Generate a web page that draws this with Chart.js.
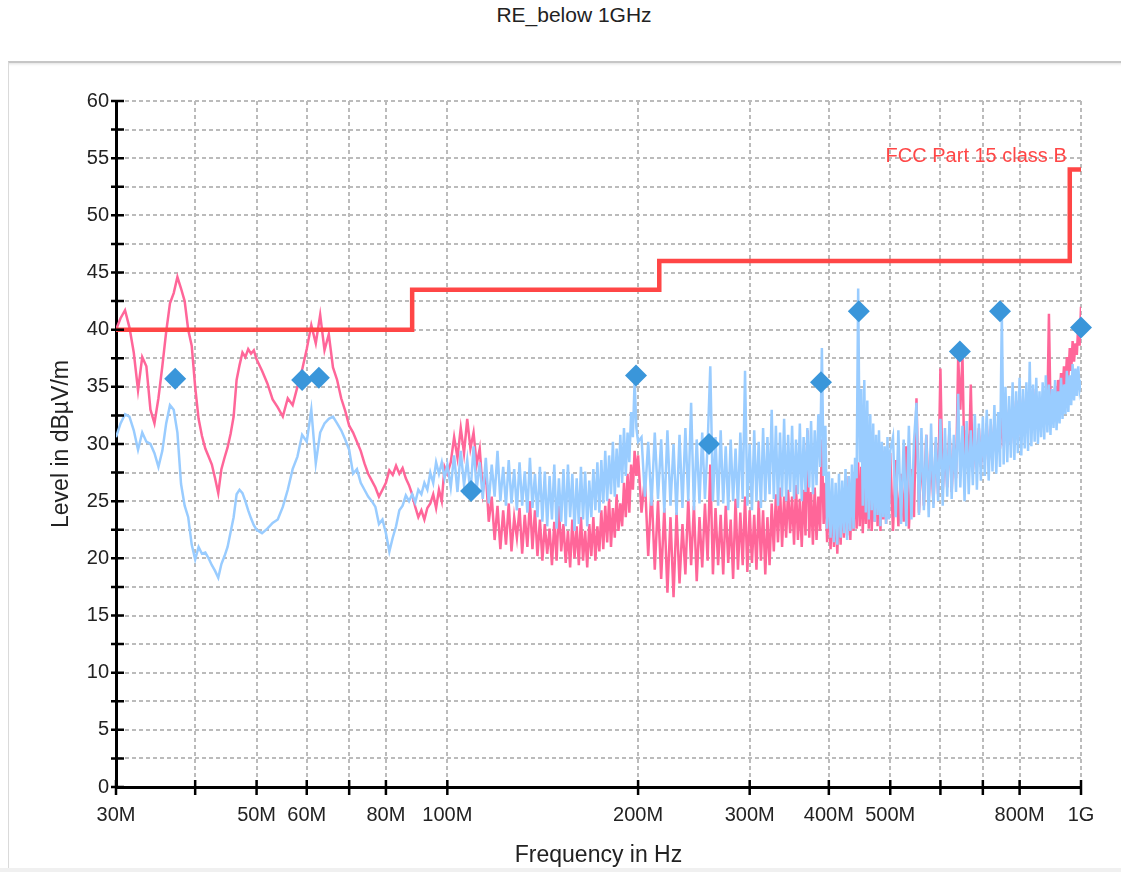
<!DOCTYPE html>
<html>
<head>
<meta charset="utf-8">
<title>RE_below 1GHz</title>
<script src="https://cdn.jsdelivr.net/npm/chart.js@4.4.1/dist/chart.umd.min.js"></script>
<style>
  body { margin: 0; background: #fff; overflow: hidden; font-family: "Liberation Sans", Arial, sans-serif; }
  #title { position: absolute; top: 3px; left: 574px; transform: translateX(-50%); font-size: 21px; color: #222; white-space: nowrap; }
  #panel { position: absolute; left: 8px; top: 61px; width: 1113px; height: 806px; border-top: 2px solid #c6c6c6; border-left: 1px solid #dadada; border-bottom: 1px solid #dcdcdc; box-shadow: inset 0 3px 3px -2px rgba(0, 0, 0, 0.12); }
  #foot { position: absolute; left: 0; top: 868px; width: 1121px; height: 4px; background: #f0f0f0; }
  #wrap { position: absolute; left: 0; top: 0; width: 1121px; height: 872px; }
</style>
</head>
<body>
<div id="title">RE_below 1GHz</div>
<div id="panel"></div>
<div id="foot"></div>
<div id="wrap"><canvas id="chart"></canvas></div>
<script>
// sweep frequencies in MHz
const freqMHz = [
  30, 30.5, 31, 31.5, 32, 32.5, 33, 33.5, 34, 34.5, 35, 35.5, 36, 36.5, 37, 37.5, 38, 38.5, 39, 39.5,
  40, 40.5, 41, 41.5, 42, 42.5, 43, 43.5, 44, 44.5, 45, 45.5, 46, 46.5, 47, 47.5, 48, 48.5, 49, 49.5, 50,
  51, 52, 53, 54, 55, 56, 57, 58, 59, 60, 61, 62, 63, 64, 65, 66, 67, 68, 69, 70,
  71, 72, 73, 74, 75, 76, 77, 78, 79, 80, 81, 82, 83, 84, 85, 86, 87, 88, 89, 90,
  91, 92, 93, 94, 95, 96, 97, 98, 99, 100,
  101.25, 102.5, 103.75, 105, 106.25, 107.5, 108.75, 110, 111.25, 112.5, 113.75, 115, 116.25, 117.5, 118.75, 120, 121.25, 122.5, 123.75, 125,
  126.25, 127.5, 128.75, 130, 131.25, 132.5, 133.75, 135, 136.25, 137.5, 138.75, 140, 141.25, 142.5, 143.75, 145, 146.25, 147.5, 148.75, 150,
  151.25, 152.5, 153.75, 155, 156.25, 157.5, 158.75, 160, 161.25, 162.5, 163.75, 165, 166.25, 167.5, 168.75, 170, 171.25, 172.5, 173.75, 175,
  176.25, 177.5, 178.75, 180, 181.25, 182.5, 183.75, 185, 186.25, 187.5, 188.75, 190, 191.25, 192.5, 193.75, 195, 196.25, 197.5, 198.75, 200,
  202.5, 205, 207.5, 210, 212.5, 215, 217.5, 220, 222.5, 225, 227.5, 230, 232.5, 235, 237.5, 240, 242.5, 245, 247.5, 250,
  252.5, 255, 257.5, 260, 262.5, 265, 267.5, 270, 272.5, 275, 277.5, 280, 282.5, 285, 287.5, 290, 292.5, 295, 297.5, 300,
  302.5, 305, 307.5, 310, 312.5, 315, 317.5, 320, 322.5, 325, 327.5, 330, 332.5, 335, 337.5, 340, 342.5, 345, 347.5, 350,
  352.5, 355, 357.5, 360, 362.5, 365, 367.5, 370, 372.5, 375, 377.5, 380, 382.5, 385, 387.5, 390, 392.5, 395, 397.5, 400,
  402.5, 405, 407.5, 410, 412.5, 415, 417.5, 420, 422.5, 425, 427.5, 430, 432.5, 435, 437.5, 440, 442.5, 445, 447.5, 450,
  452.5, 455, 457.5, 460, 462.5, 465, 467.5, 470, 472.5, 475, 477.5, 480, 482.5, 485, 487.5, 490, 492.5, 495, 497.5, 500,
  505, 510, 515, 520, 525, 530, 535, 540, 545, 550, 555, 560, 565, 570, 575, 580, 585, 590, 595, 600,
  605, 610, 615, 620, 625, 630, 635, 640, 645, 650, 655, 660, 665, 670, 675, 680, 685, 690, 695, 700,
  705, 710, 715, 720, 725, 730, 735, 740, 745, 750, 755, 760, 765, 770, 775, 780, 785, 790, 795, 800,
  805, 810, 815, 820, 825, 830, 835, 840, 845, 850, 855, 860, 865, 870, 875, 880, 885, 890, 895, 900,
  905, 910, 915, 920, 925, 930, 935, 940, 945, 950, 955, 960, 965, 970, 975, 980, 985, 990, 995, 1000
];

// pink trace, dBµV/m
const pinkTrace = [
  40.0, 41.0, 41.7, 40.2, 38.0, 34.7, 37.6, 36.8, 33.0, 31.8, 34.0, 36.8, 39.8, 42.3, 43.2, 44.6, 43.6, 42.5, 40.0, 38.6,
  35.0, 32.2, 30.7, 29.6, 28.9, 28.2, 27.0, 25.7, 27.8, 28.8, 29.7, 30.9, 32.4, 35.6, 36.9, 38.0, 37.6, 38.3, 37.9, 38.2, 37.4,
  36.4, 35.3, 33.9, 33.2, 32.4, 34.0, 33.4, 35.0, 36.5, 38.3, 40.4, 38.8, 41.3, 38.2, 39.6, 36.7, 35.6, 34.0, 32.9, 31.6,
  31.0, 30.2, 29.4, 28.3, 27.4, 26.8, 26.2, 25.4, 26.0, 26.6, 27.7, 27.3, 28.1, 27.4, 27.9, 27.0, 26.4, 25.6, 24.5, 23.6,
  24.2, 23.4, 24.4, 24.8, 25.6, 24.4, 26.0, 25.0, 28.0, 27.4,
  28.4, 30.6, 28.8, 31.4, 29.2, 32.2, 29.6, 31.0, 28.2, 29.6, 25.8, 27.6, 23.2, 25.4, 21.6, 24.6, 20.8, 24.2, 21.2, 24.8,
  20.6, 23.6, 21.8, 24.4, 20.4, 23.8, 21.0, 25.0, 20.8, 24.2, 20.2, 23.4, 19.8, 23.0, 20.4, 22.6, 19.4, 23.2, 19.8, 24.6,
  20.6, 23.0, 19.6, 22.4, 19.2, 23.4, 20.0, 22.8, 19.4, 23.6, 19.8, 22.4, 19.2, 23.0, 20.2, 23.6, 19.8, 22.8, 20.6, 24.2,
  20.8, 24.6, 21.4, 25.2, 21.0, 24.4, 21.8, 25.6, 22.4, 24.8, 22.8, 26.6, 23.6, 27.4, 24.0, 28.2, 26.0, 29.4, 27.2, 29.0,
  24.0, 27.0, 20.2, 26.2, 19.0, 25.0, 18.2, 24.4, 17.0, 23.6, 16.6, 24.0, 17.8, 23.0, 18.6, 25.2, 19.4, 24.6, 18.0, 23.6,
  19.2, 24.8, 19.8, 28.2, 18.6, 24.4, 19.4, 23.8, 18.6, 24.6, 19.6, 23.4, 18.2, 25.2, 19.0, 24.0, 19.4, 25.4, 18.8, 24.2,
  19.6, 23.8, 19.0, 25.0, 19.8, 24.2, 18.6, 23.6, 19.4, 24.8, 20.6, 25.6, 21.4, 26.2, 21.0, 25.4, 21.8, 26.0, 22.2, 25.4,
  21.2, 26.4, 21.6, 25.2, 21.0, 26.0, 22.0, 31.2, 21.8, 25.8, 21.2, 26.2, 21.6, 25.4, 22.4, 30.4, 23.0, 26.6, 21.4, 25.8,
  20.8, 25.2, 21.0, 24.6, 20.4, 25.0, 21.2, 26.0, 21.8, 26.6, 22.0, 27.2, 21.6, 26.4, 22.4, 27.6, 22.6, 28.4, 22.8, 28.0,
  22.2, 27.6, 23.0, 28.6, 22.6, 29.2, 22.4, 28.2, 23.2, 29.6, 22.8, 30.0, 22.4, 28.8, 23.4, 29.4, 23.0, 28.6, 23.8, 29.2,
  22.4, 28.6, 22.8, 27.4, 23.2, 29.8, 22.6, 27.8, 23.6, 34.0, 24.0, 29.2, 24.6, 30.8, 25.2, 28.6, 24.8, 30.2, 25.6, 36.6,
  25.8, 29.6, 26.2, 31.4, 25.8, 30.0, 27.0, 37.6, 33.0, 37.8, 27.4, 31.2, 27.8, 35.2, 27.6, 30.4, 28.2, 31.4, 28.0, 30.6,
  28.6, 31.8, 28.4, 30.8, 29.0, 32.0, 29.2, 31.2, 29.6, 32.4, 29.8, 31.6, 30.2, 33.0, 30.0, 32.4, 30.6, 33.8, 30.4, 34.6,
  31.2, 33.2, 31.6, 34.4, 31.4, 33.6, 32.0, 34.8, 31.8, 33.4, 32.4, 34.0, 32.2, 33.8, 32.8, 34.6, 33.0, 41.4, 33.2, 34.2,
  33.4, 35.0, 33.8, 35.6, 34.0, 36.2, 34.6, 36.8, 35.2, 37.6, 35.8, 38.4, 36.4, 39.0, 37.2, 38.8, 37.8, 40.4, 38.6, 42.0
];

// light blue trace, dBµV/m
const blueTrace = [
  30.6, 31.8, 32.6, 32.4, 31.2, 29.5, 31.0, 30.2, 30.0, 29.2, 28.0, 29.4, 31.8, 33.4, 33.0, 31.0, 26.5, 24.6, 23.6, 21.2,
  19.9, 21.0, 20.4, 20.5, 20.0, 19.4, 18.9, 18.3, 19.5, 20.2, 21.0, 22.3, 23.6, 25.6, 26.0, 25.7, 25.0, 24.2, 23.5, 22.9, 22.5,
  22.2, 22.6, 23.1, 23.4, 24.5, 26.0, 27.8, 28.9, 30.8, 30.2, 33.0, 28.3, 31.0, 31.8, 32.2, 32.4, 31.8, 31.2, 30.4, 29.5,
  27.4, 27.8, 26.6, 26.0, 25.4, 25.0, 24.5, 23.0, 23.4, 22.2, 20.6, 21.8, 22.8, 24.2, 24.6, 25.5, 25.0, 25.6, 24.9, 26.0,
  25.6, 26.6, 26.0, 27.5, 26.6, 28.4, 27.4, 28.4, 27.0, 28.2,
  26.2, 29.0, 25.8, 29.4, 26.4, 28.6, 25.6, 29.8, 26.0, 28.4, 25.2, 28.8, 24.8, 28.2, 25.4, 29.4, 25.0, 28.0, 24.6, 28.6,
  24.8, 27.8, 24.2, 28.4, 24.6, 27.6, 24.0, 28.8, 24.4, 27.4, 23.6, 28.0, 23.2, 27.6, 22.8, 27.2, 23.4, 28.2, 22.6, 27.0,
  23.2, 27.8, 22.8, 28.2, 23.6, 27.4, 22.4, 27.0, 23.0, 28.0, 23.4, 27.6, 22.8, 26.8, 23.6, 27.8, 24.2, 28.4, 24.0, 28.6,
  24.8, 29.4, 25.0, 29.0, 25.6, 30.2, 25.4, 29.6, 26.2, 30.8, 26.6, 31.4, 27.2, 31.0, 28.4, 32.8, 30.6, 35.6, 31.4, 30.2,
  30.6, 25.4, 30.2, 24.6, 31.0, 25.2, 30.4, 24.0, 31.2, 24.6, 30.0, 23.8, 30.8, 24.4, 31.4, 25.0, 33.6, 24.2, 30.4, 24.8,
  31.0, 25.2, 30.0, 36.8, 25.0, 30.6, 24.6, 31.2, 24.8, 29.8, 24.2, 30.4, 25.0, 29.6, 24.4, 31.0, 25.2, 36.4, 24.6, 30.0,
  24.2, 31.2, 25.0, 30.2, 24.4, 31.4, 25.0, 30.6, 25.6, 33.0, 25.2, 31.6, 24.6, 31.0, 25.4, 32.2, 25.0, 30.8, 25.8, 31.6,
  25.2, 30.4, 25.6, 31.8, 25.0, 30.6, 25.8, 31.4, 26.2, 32.0, 25.6, 31.2, 26.4, 32.6, 28.0, 38.4, 27.2, 31.6, 22.6, 27.6,
  21.8, 27.0, 21.4, 26.6, 21.2, 27.4, 21.8, 26.8, 22.2, 27.8, 21.6, 27.2, 22.4, 28.2, 22.6, 28.8, 27.0, 43.6, 28.4, 34.8,
  24.6, 35.6, 24.0, 33.8, 23.4, 32.6, 24.2, 31.8, 23.2, 30.8, 23.8, 31.2, 22.8, 30.2, 23.6, 29.8, 23.0, 30.6, 23.4, 29.4,
  30.6, 23.6, 31.2, 23.0, 30.4, 22.8, 31.6, 23.4, 30.2, 33.6, 23.8, 31.4, 24.2, 30.8, 23.6, 31.8, 24.4, 30.6, 25.0, 32.2,
  24.6, 31.4, 25.4, 32.0, 25.2, 30.8, 25.8, 34.4, 26.2, 31.6, 25.0, 32.0, 25.6, 31.2, 26.4, 32.6, 26.0, 31.8, 26.8, 32.4,
  27.2, 33.0, 26.8, 32.2, 27.6, 33.4, 27.4, 32.8, 28.0, 41.4, 28.2, 35.0, 28.4, 34.2, 28.8, 35.4, 28.6, 34.6, 29.2, 35.8,
  29.0, 34.8, 29.6, 35.4, 29.4, 37.2, 29.8, 35.2, 30.2, 35.8, 30.0, 34.6, 30.6, 35.4, 30.4, 36.0, 31.0, 35.2, 30.8, 34.8,
  31.4, 35.6, 31.2, 34.6, 31.8, 35.8, 32.2, 35.2, 32.6, 36.4, 32.8, 36.0, 33.4, 37.0, 33.8, 36.6, 34.2, 36.8, 34.8, 35.6
];

// FCC Part 15 class B limit (steps)
const limitName = 'FCC Part 15 class B';
const limitFreq = [30, 88, 88, 216, 216, 960, 960, 1000];
const limitLevel = [40, 40, 43.5, 43.5, 46, 46, 54, 54];

// final measurement markers
const markerFreq = [37.2, 59.0, 62.7, 109, 198.5, 258.8, 388.8, 446, 644, 745, 1000];
const markerLevel = [35.7, 35.6, 35.8, 25.9, 36.0, 30.0, 35.4, 41.6, 38.1, 41.6, 40.2];

// axis ticks
const xTicks = [30, 40, 50, 60, 70, 80, 100, 200, 300, 400, 500, 600, 700, 800, 1000];
const xTickLabels = ['30M', '', '50M', '60M', '', '80M', '100M', '200M', '300M', '400M', '500M', '', '', '800M', '1G'];

const fontFamily = '"Liberation Sans", Arial, sans-serif';
Chart.defaults.font.family = fontFamily;

const pts = (xs, ys) => xs.map((x, i) => ({ x: x, y: ys[i] }));

// black tick marks crossing the axes + limit label
const axisMarks = {
  id: 'axisMarks',
  afterDraw(chart) {
    const { ctx, chartArea, scales } = chart;
    const x = scales.x, y = scales.y;
    ctx.save();
    ctx.strokeStyle = '#000';
    ctx.lineWidth = 2.5;
    ctx.beginPath();
    y.ticks.forEach(t => {
      const py = y.getPixelForValue(t.value);
      ctx.moveTo(chartArea.left - 5, py);
      ctx.lineTo(chartArea.left + 8, py);
    });
    x.ticks.forEach(t => {
      const px = x.getPixelForValue(t.value);
      ctx.moveTo(px, chartArea.bottom + 8);
      ctx.lineTo(px, chartArea.bottom - 7);
    });
    ctx.stroke();

    ctx.fillStyle = '#ff4646';
    ctx.font = '20px ' + fontFamily;
    ctx.textAlign = 'right';
    ctx.textBaseline = 'middle';
    ctx.fillText(limitName, x.getPixelForValue(limitFreq[5]) - 3, y.getPixelForValue(limitLevel[6]) - 13);
    ctx.restore();
  }
};

const ctx = document.getElementById('chart').getContext('2d');
new Chart(ctx, {
  type: 'scatter',
  data: {
    datasets: [
      {
        label: 'Final',
        data: pts(markerFreq, markerLevel),
        showLine: false,
        pointStyle: 'rectRot',
        pointRadius: 11,
        backgroundColor: '#3a96da',
        borderWidth: 0,
        clip: false,
      },
      {
        label: limitName,
        data: pts(limitFreq, limitLevel),
        showLine: true,
        borderColor: '#ff4646',
        borderWidth: 4.5,
        borderJoinStyle: 'miter',
        pointRadius: 0,
      },
      {
        label: 'Blue',
        data: pts(freqMHz, blueTrace),
        showLine: true,
        borderColor: '#99ccff',
        borderWidth: 2.5,
        pointRadius: 0,
      },
      {
        label: 'Pink',
        data: pts(freqMHz, pinkTrace),
        showLine: true,
        borderColor: '#ff6699',
        borderWidth: 2.5,
        pointRadius: 0,
      },
    ],
  },
  options: {
    responsive: true,
    maintainAspectRatio: false,
    animation: false,
    layout: { padding: { left: 48, top: 101, right: 40, bottom: 0 } },
    plugins: {
      legend: { display: false },
      tooltip: { enabled: false },
    },
    scales: {
      x: {
        type: 'logarithmic',
        min: 30,
        max: 1000,
        afterBuildTicks: s => { s.ticks = xTicks.map(v => ({ value: v })); },
        afterFit: s => { s.height = 85; },
        ticks: {
          autoSkip: false,
          maxRotation: 0,
          padding: 16,
          color: '#222',
          font: { size: 20 },
          callback: (v, i) => xTickLabels[i],
        },
        grid: { color: '#bbbbbb', lineWidth: 2, drawTicks: false },
        border: { color: '#000', width: 3, dash: [4, 3] },
        title: {
          display: true,
          text: 'Frequency in Hz',
          color: '#222',
          font: { size: 23 },
          padding: { top: 0, bottom: 3 },
        },
      },
      y: {
        min: 0,
        max: 60,
        afterFit: s => { s.width = 68; },
        ticks: {
          stepSize: 2.5,
          autoSkip: false,
          padding: 7,
          color: '#222',
          font: { size: 20 },
          callback: v => (v % 5 === 0 ? v : ''),
        },
        grid: { color: '#bbbbbb', lineWidth: 2, drawTicks: false },
        border: { color: '#000', width: 3, dash: [4, 3] },
        title: {
          display: true,
          text: 'Level in dBµV/m',
          color: '#222',
          font: { size: 23 },
          padding: { top: 0, bottom: 0 },
        },
      },
    },
  },
  plugins: [axisMarks],
});
</script>
</body>
</html>
